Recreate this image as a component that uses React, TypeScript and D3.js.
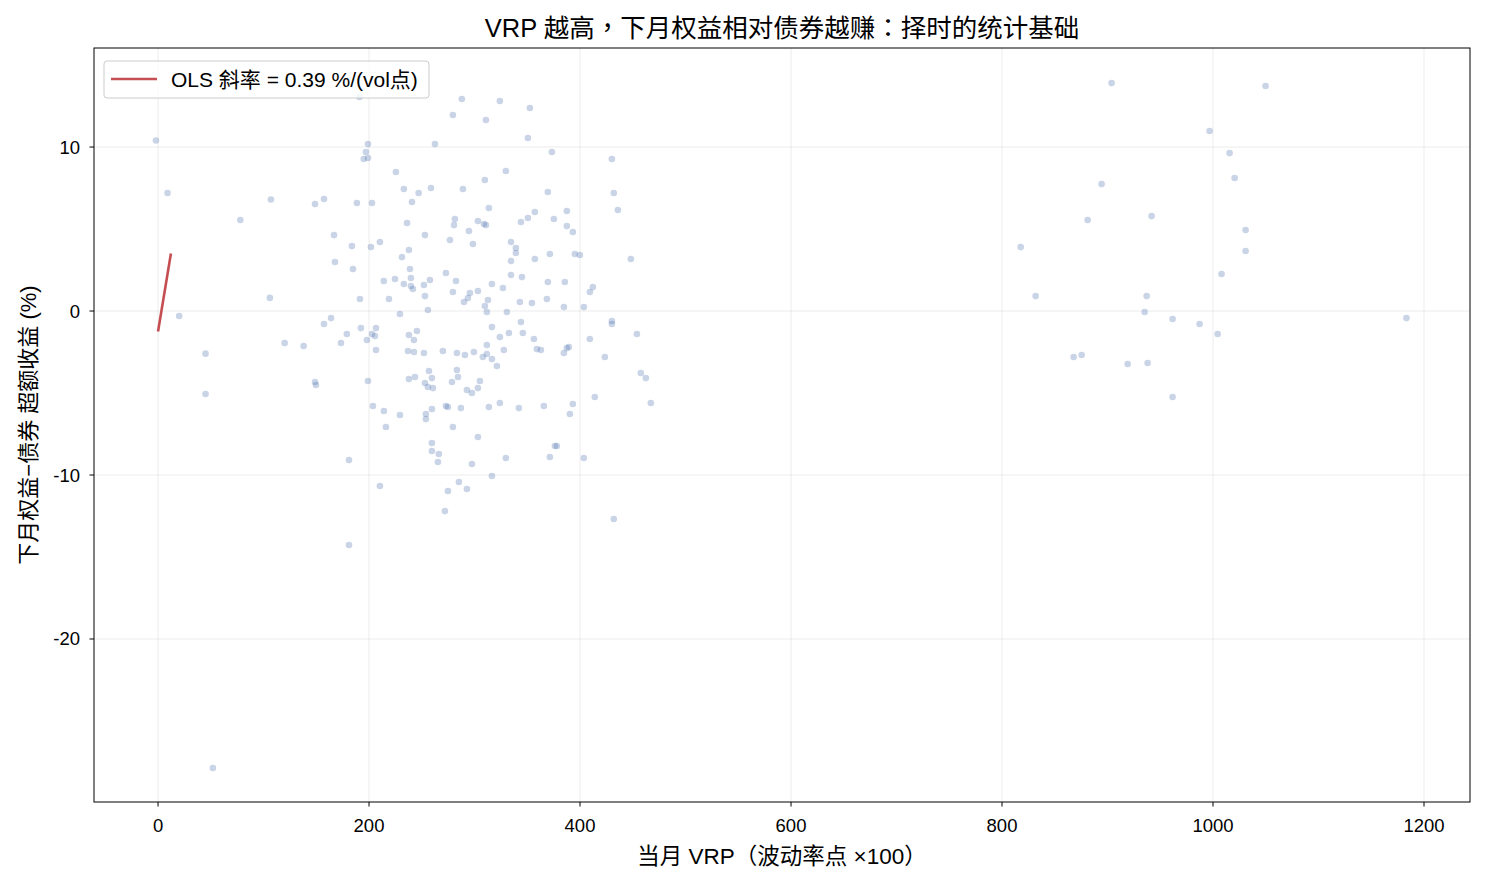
import React from "react";
import * as d3 from "d3";

const vrpX: number[] = [
  -2, 9, 78, 107, 20, 106, 45, 120, 138, 45, 52,
  191, 288, 279.5, 262.5, 199, 197, 195, 199, 225.5, 233, 247, 258.7, 289, 240.7, 148.8, 157.3, 188.5, 202.8, 236, 281.4, 280.5, 294.7, 166.8, 253, 276.7, 210.3, 183.8,
  157.3, 164, 148.8, 149.7, 167.7, 184.8, 201.8, 191.4, 179, 173.4, 192.3, 198, 202.8, 205.6, 206.6, 206.6, 199, 214, 218.9, 224.6, 231.2, 237.8, 238.8, 239.7, 233, 239.7, 241.6, 252, 253, 257.7, 255.8, 229.3, 237.8, 245.4, 242.6, 236.9, 242.6, 252, 270, 283.3, 290.9, 272.9, 282.4, 279.5, 290, 293.7, 295.6, 237.8, 243.5, 256.8, 259.6, 253, 255.8, 260.6, 283.3, 284.3, 278.6, 292.8,
  324, 352.5, 310.8, 350.6, 373.3, 430.2, 329.7, 309.8, 369.5, 432, 435.9, 313.6, 357.2, 387.5, 303.2, 308.9, 310.8, 350.6, 344, 375.2, 387.5, 393.2, 298.5, 334.5,
  339.2, 339.2, 334.5, 357.2, 371.4, 395.1, 399.8, 448.2, 334.5, 344.9, 316.5, 326.9, 369.5, 385.6, 412.2, 409.3, 303.2, 312.7, 309.8, 311.7, 330.7, 343, 354.4, 368.6, 384.7, 403.6, 344, 316.5, 332.6, 345.8, 324, 356.3, 359.1, 362.9, 389.4, 387.5, 384.7, 409.3, 430.2, 430.2, 453.9, 423.5, 457.6, 462.4, 414, 327.8, 311.7, 299.4, 307.9, 311.7, 316.5, 321.2, 305.1, 303.2, 297.5,
  203.7, 214.1, 229.3, 216, 253.9, 253.9, 259.6, 272.9, 274.8, 287.1, 279.5, 259.6, 259.6, 266.2, 265.3, 181, 210.3, 285.2, 274.8, 292.8, 271.9, 181,
  313.6, 324, 342, 365.7, 393.2, 390.4, 467.1, 303.2, 376.2, 378, 329.7, 371.4, 403.6, 297.5, 316.5, 432,
  903.9, 1049.8, 996.8, 1015.7, 1020.5, 894.4, 881.2, 941.8, 817.7, 1030.9, 1030.9, 1008.1, 831.9, 937.1, 935.2, 961.7, 987.3, 1004.4, 867.9, 875.5, 919.1, 938, 961.7, 1183.4,
];

const excessRet: number[] = [
  10.4, 7.2, 5.55, 6.8, -0.3, 0.8, -2.6, -1.95, -2.13, -5.06, -27.87,
  13.05, 12.93, 11.95, 10.18, 10.18, 9.7, 9.27, 9.33, 8.48, 7.44, 7.2, 7.5, 7.44, 6.65, 6.52, 6.83, 6.59, 6.59, 5.37, 5.61, 5.24, 4.88, 4.63, 4.63, 4.33, 4.21, 3.96,
  -0.79, -0.43, -4.33, -4.51, 2.99, 2.56, 3.9, 0.73, -1.4, -1.95, -1.04, -1.77, -1.4, -1.52, -1.04, -2.38, -4.27, 1.83, 0.73, 1.95, 3.29, 3.72, 2.56, 2.01, 1.65, 1.52, 1.34, 1.59, 0.91, 1.89, 0.06, -0.18, -1.46, -1.22, -1.77, -2.44, -2.5, -2.56, -2.44, -2.56, -2.68, 2.32, 1.83, 1.16, 0.55, 0.79, 1.1, -4.15, -4.02, -3.66, -4.09, -4.39, -4.63, -4.7, -3.6, -4.02, -4.33, -4.82,
  12.81, 12.38, 11.65, 10.55, 9.7, 9.27, 8.54, 7.99, 7.26, 7.2, 6.16, 6.28, 6.04, 6.1, 5.49, 5.31, 5.24, 5.67, 5.43, 5.61, 5.18, 4.82, 4.09, 4.21,
  3.84, 3.54, 3.05, 3.17, 3.48, 3.48, 3.42, 3.17, 2.2, 2.07, 1.65, 1.4, 1.77, 1.77, 1.46, 1.16, 1.22, 0.67, 0.3, -0.06, -0.06, 0.55, 0.49, 0.73, 0.24, 0.24, -0.67, -0.98, -1.34, -1.34, -1.59, -1.71, -2.32, -2.38, -2.2, -2.26, -2.56, -1.71, -0.61, -0.79, -1.4, -2.8, -3.78, -4.09, -5.24, -2.38, -2.07, -2.5, -2.8, -2.62, -2.93, -3.35, -4.27, -4.7, -5.0,
  -5.79, -6.1, -6.34, -7.07, -6.28, -6.59, -5.98, -5.79, -5.85, -5.92, -7.07, -8.05, -8.54, -8.72, -9.21, -9.09, -10.67, -10.43, -10.98, -10.85, -12.2, -14.27,
  -5.85, -5.61, -5.92, -5.79, -5.67, -6.28, -5.61, -7.68, -8.23, -8.23, -8.96, -8.9, -8.96, -9.33, -10.06, -12.68,
  13.9, 13.72, 10.98, 9.63, 8.11, 7.74, 5.55, 5.79, 3.9, 4.94, 3.66, 2.26, 0.91, 0.91, -0.06, -0.49, -0.79, -1.4, -2.8, -2.68, -3.23, -3.17, -5.24, -0.43,
];

const olsSlope = 0.39;
const olsIntercept = -1.25;
const olsXRange: number[] = [0, 12.2];

const xTicks: number[] = [0, 200, 400, 600, 800, 1000, 1200];
const yTicks: number[] = [-20, -10, 0, 10];

const titleText = "VRP 越高，下月权益相对债券越赚：择时的统计基础";
const xLabelText = "当月 VRP（波动率点 ×100）";
const yLabelText = "下月权益−债券 超额收益 (%)";
const legendText = "OLS 斜率 = 0.39 %/(vol点)";

const W = 1485;
const H = 884;
const M = { left: 94, right: 1470, top: 48, bottom: 802 };
const FONT = "'Liberation Sans', Arial, 'Noto Sans CJK TC', sans-serif";

export default function App() {
  const x = d3.scaleLinear().domain([-60.7, 1243.6]).range([M.left, M.right]);
  const y = d3.scaleLinear().domain([-29.94, 16.04]).range([M.bottom, M.top]);
  const pts = vrpX.map((v, i) => [v, excessRet[i]] as [number, number]);
  const line = d3
    .line<number>()
    .x((d) => x(d))
    .y((d) => y(olsIntercept + olsSlope * d));

  return (
    <svg
      width={W}
      height={H}
      style={{ position: "absolute", left: 0, top: 0, display: "block", background: "#fff" }}
      fontFamily={FONT}
    >
      <rect x={0} y={0} width={W} height={H} fill="#fff" />
      <defs>
        <clipPath id="plotclip">
          <rect x={M.left} y={M.top} width={M.right - M.left} height={M.bottom - M.top} />
        </clipPath>
      </defs>
      {/* grid */}
      <g stroke="#b0b0b0" strokeOpacity={0.3} strokeWidth={0.8}>
        {xTicks.map((t) => (
          <line key={"gx" + t} x1={x(t)} x2={x(t)} y1={M.top} y2={M.bottom} />
        ))}
        {yTicks.map((t) => (
          <line key={"gy" + t} x1={M.left} x2={M.right} y1={y(t)} y2={y(t)} />
        ))}
      </g>
      {/* points */}
      <g clipPath="url(#plotclip)">
        {pts.map((p, i) => (
          <circle key={i} cx={x(p[0])} cy={y(p[1])} r={3.3} fill="#4C72B0" fillOpacity={0.3} />
        ))}
        <path d={line(olsXRange) || ""} stroke="#C44E52" strokeWidth={2.6} fill="none" />
      </g>
      {/* spines */}
      <rect
        x={M.left}
        y={M.top}
        width={M.right - M.left}
        height={M.bottom - M.top}
        fill="none"
        stroke="#000"
        strokeWidth={1}
      />
      {/* x ticks */}
      {xTicks.map((t) => (
        <g key={"xt" + t}>
          <line x1={x(t)} x2={x(t)} y1={M.bottom} y2={M.bottom + 4.5} stroke="#000" strokeWidth={1} />
          <text x={x(t)} y={M.bottom + 23} dominantBaseline="central" textAnchor="middle" fontSize={18.5} fill="#000">
            {t}
          </text>
        </g>
      ))}
      {/* y ticks */}
      {yTicks.map((t) => (
        <g key={"yt" + t}>
          <line x1={M.left - 4.5} x2={M.left} y1={y(t)} y2={y(t)} stroke="#000" strokeWidth={1} />
          <text x={M.left - 14} y={y(t)} dominantBaseline="central" textAnchor="end" fontSize={18.5} fill="#000">
            {t < 0 ? "-" + Math.abs(t) : String(t)}
          </text>
        </g>
      ))}
      {/* labels */}
      <text x={(M.left + M.right) / 2} y={28} textAnchor="middle" dominantBaseline="central" fontSize={25.5} fill="#000">
        {titleText}
      </text>
      <text x={(M.left + M.right) / 2} y={856} textAnchor="middle" dominantBaseline="central" fontSize={22.5} fill="#000">
        {xLabelText}
      </text>
      <text
        transform={`translate(28, ${(M.top + M.bottom) / 2}) rotate(-90)`}
        textAnchor="middle"
        dominantBaseline="central"
        fontSize={22}
        fill="#000"
      >
        {yLabelText}
      </text>
      {/* legend */}
      <g>
        <rect x={104} y={61} width={325} height={37} rx={3} fill="#fff" fillOpacity={0.8} stroke="#ccc" strokeWidth={1} />
        <line x1={111} x2={157} y1={79} y2={79} stroke="#C44E52" strokeWidth={2.6} />
        <text x={171} y={79} dominantBaseline="central" fontSize={21} fill="#000">
          {legendText}
        </text>
      </g>
    </svg>
  );
}
